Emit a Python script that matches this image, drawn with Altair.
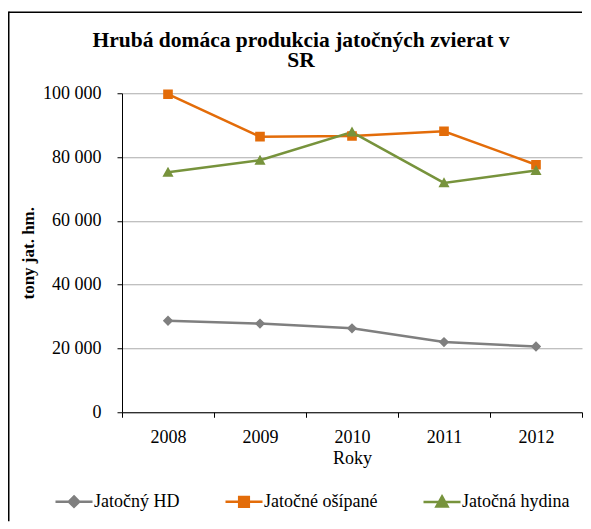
import altair as alt
import pandas as pd

# ---- data ----
years = ["2008", "2009", "2010", "2011", "2012"]
series_names = ["Jatočný HD", "Jatočné ošípané", "Jatočná hydina"]
hd_values = [28700, 27800, 26300, 22000, 20600]
osipane_values = [99700, 86400, 86600, 88100, 77600]
hydina_values = [75200, 79000, 87800, 71900, 75800]
y_ticks = [0, 20000, 40000, 60000, 80000, 100000]

colors = ["#7F7F7F", "#E36C09", "#77933C"]
# symbol paths: a horizontal line segment (only visible when stroked, i.e. in the legend)
# plus a filled marker
marker_paths = [
    "M-1,0H1M0,-0.28L0.28,0L0,0.28L-0.28,0Z",
    "M-1,0H1M-0.26,-0.26H0.26V0.26H-0.26Z",
    "M-1,0H1M0,-0.3L0.3,0.24L-0.3,0.24Z",
]

rows = []
for name, vals in zip(series_names, [hd_values, osipane_values, hydina_values]):
    for yr, v in zip(years, vals):
        rows.append({"rok": yr, "hodnota": v, "seria": name})
df = pd.DataFrame(rows)

FONT = "Liberation Serif"

x_enc = alt.X(
    "rok:O",
    bandPosition=0.5,
    scale=alt.Scale(type="band", paddingInner=0, paddingOuter=0),
    axis=alt.Axis(
        title="Roky", labelAngle=0, tickBand="extent", grid=False,
        domainColor="black", tickColor="black", tickSize=5,
        labelFont=FONT, labelFontSize=18, labelColor="black", labelPadding=11,
        titleFont=FONT, titleFontSize=18, titleFontWeight="normal", titleColor="black",
        titlePadding=3,
    ),
)
y_enc = alt.Y(
    "hodnota:Q",
    scale=alt.Scale(domain=[0, 100000], nice=False, zero=True),
    axis=alt.Axis(
        title="tony jat. hm.", values=y_ticks,
        labelExpr="replace(format(datum.value, ','), ',', ' ')",
        grid=True, gridColor="#ABABAB", gridWidth=1,
        domainColor="black", tickColor="black", tickSize=5,
        labelFont=FONT, labelFontSize=18, labelColor="black", labelPadding=16,
        titleFont=FONT, titleFontSize=17, titleFontWeight="bold", titleColor="black",
        titlePadding=5,
    ),
)

color_scale = alt.Scale(domain=series_names, range=colors)
shape_scale = alt.Scale(domain=series_names, range=marker_paths)

leg = alt.Legend(
    title=None, orient="none", legendX=-68, legendY=388,
    direction="horizontal", columns=3,
    symbolSize=1369, symbolStrokeWidth=2.5, symbolOpacity=1,
    labelFont=FONT, labelFontSize=18, labelColor="black", labelOffset=0,
    columnPadding=40,
)

base = alt.Chart(df)

lines = base.mark_line(strokeWidth=2.5).encode(
    x=x_enc, y=y_enc,
    color=alt.Color("seria:N", scale=color_scale, legend=leg),
    detail="seria:N",
)

points = base.mark_point(filled=True, size=1369, opacity=1, strokeWidth=0).encode(
    x=x_enc, y=y_enc,
    color=alt.Color("seria:N", scale=color_scale, legend=leg),
    stroke=alt.Stroke("seria:N", scale=color_scale, legend=leg),
    shape=alt.Shape("seria:N", scale=shape_scale, legend=leg),
)

one = pd.DataFrame({"f": [0]})
frame_top = alt.Chart(one).mark_rule(stroke="black", strokeWidth=1.5, clip=False).encode(
    x=alt.value(-113.25), x2=alt.value(460), y=alt.value(-81)
)
frame_left = alt.Chart(one).mark_rule(stroke="black", strokeWidth=1.5, clip=False).encode(
    x=alt.value(-113.25), y=alt.value(-81.75), y2=alt.value(428)
)

chart = alt.layer(lines, points, frame_top, frame_left).properties(
    width=460, height=319,
    title=alt.Title(
        ["Hrubá domáca produkcia jatočných zvierat v", "SR"],
        font=FONT, fontSize=21.5, fontWeight="bold", color="black",
        anchor="middle", frame="group", dx=-51, offset=-61, lineHeight=20,
    ),
    padding={"left": 0, "top": 2.25, "right": 0, "bottom": 0},
    background="white",
).configure(font=FONT).configure_view(strokeWidth=0).configure_legend(
    labelFont=FONT, labelFontSize=18, labelColor="black"
)

chart.save("out.html", embed_options={"renderer": "svg", "actions": False})
